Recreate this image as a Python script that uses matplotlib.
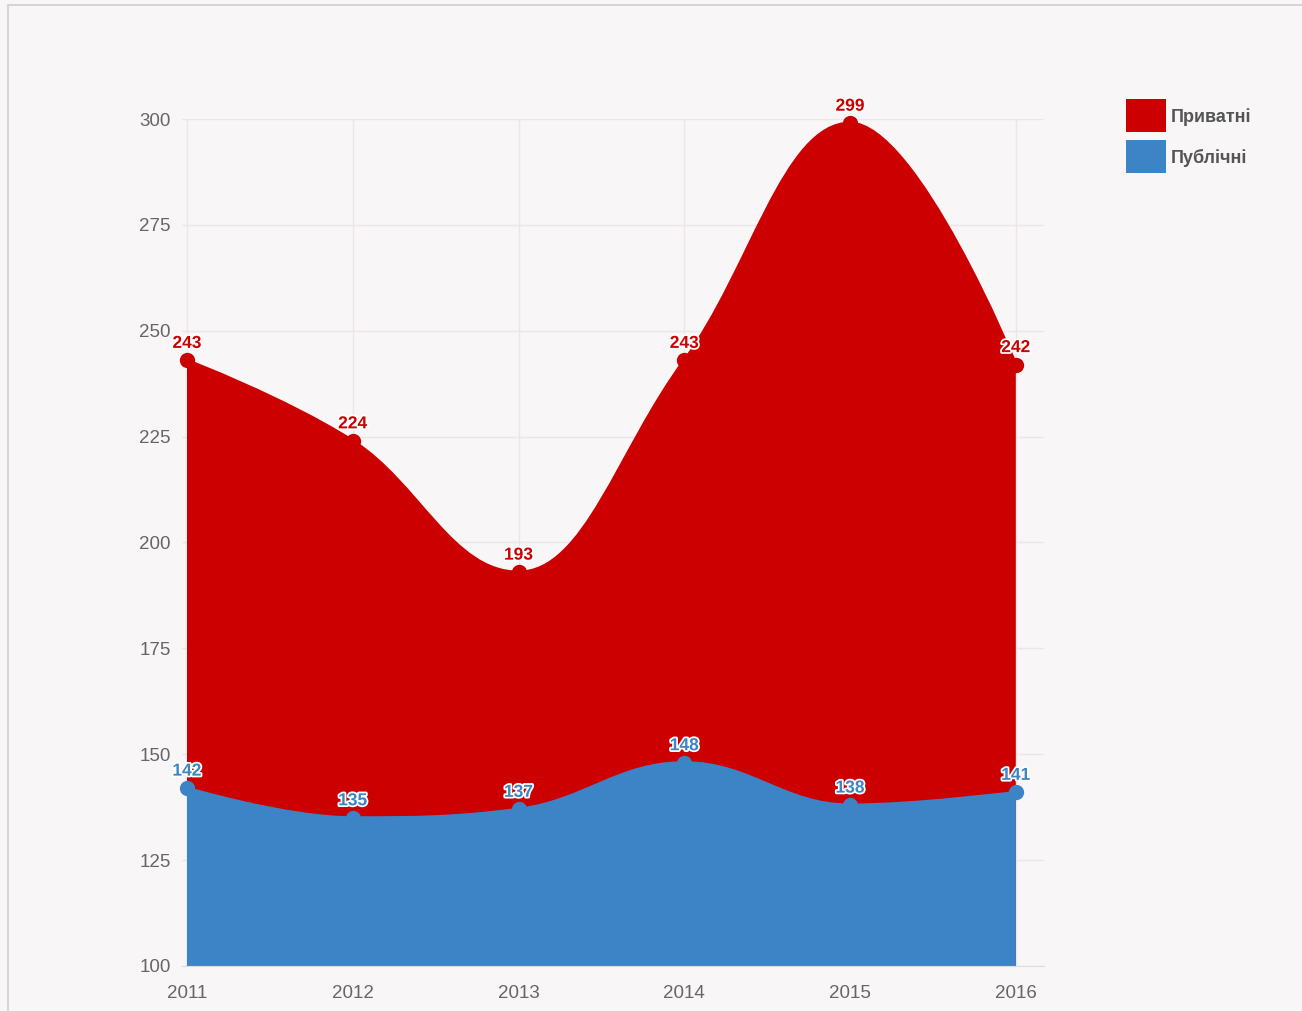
import numpy as np
import matplotlib
matplotlib.use("Agg")
import matplotlib.pyplot as plt
from matplotlib.path import Path
from matplotlib.patches import PathPatch, Rectangle
import matplotlib.patheffects as pe

years = [2011, 2012, 2013, 2014, 2015, 2016]
private = [243, 224, 193, 243, 299, 242]
public = [142, 135, 137, 148, 138, 141]
series_names = ["Приватні", "Публічні"]
y_ticks = [100, 125, 150, 175, 200, 225, 250, 275, 300]

RED = "#cc0000"
BLUE = "#3d84c6"
BG = "#f9f6f7"

plt.rcParams["font.family"] = ["Liberation Sans", "DejaVu Sans"]


def spline_path(xs, ys, base):
    # highcharts-style spline control points, closed down to the baseline
    n = len(xs)
    sm = 1.5
    den = sm + 1
    lc = [None] * n
    rc = [None] * n
    for i in range(n):
        if i == 0 or i == n - 1:
            lc[i] = (xs[i], ys[i])
            rc[i] = (xs[i], ys[i])
            continue
        x, y = xs[i], ys[i]
        lx = (sm * x + xs[i - 1]) / den
        ly = (sm * y + ys[i - 1]) / den
        rx = (sm * x + xs[i + 1]) / den
        ry = (sm * y + ys[i + 1]) / den
        corr = (ry - ly) * (rx - x) / (rx - lx) + y - ry
        ly += corr
        ry += corr
        if ly > max(ys[i - 1], y):
            ly = max(ys[i - 1], y)
            ry = 2 * y - ly
        elif ly < min(ys[i - 1], y):
            ly = min(ys[i - 1], y)
            ry = 2 * y - ly
        if ry > max(y, ys[i + 1]):
            ry = max(y, ys[i + 1])
            ly = 2 * y - ry
        elif ry < min(y, ys[i + 1]):
            ry = min(y, ys[i + 1])
            ly = 2 * y - ry
        lc[i] = (lx, ly)
        rc[i] = (rx, ry)
    verts = [(xs[0], base), (xs[0], ys[0])]
    codes = [Path.MOVETO, Path.LINETO]
    line_verts = [(xs[0], ys[0])]
    line_codes = [Path.MOVETO]
    for i in range(1, n):
        seg = [rc[i - 1], lc[i], (xs[i], ys[i])]
        verts += seg
        codes += [Path.CURVE4] * 3
        line_verts += seg
        line_codes += [Path.CURVE4] * 3
    verts += [(xs[-1], base), (xs[0], base)]
    codes += [Path.LINETO, Path.CLOSEPOLY]
    return Path(verts, codes), Path(line_verts, line_codes)


fig = plt.figure(figsize=(13.02, 10.11), dpi=100)
fig.patch.set_facecolor(BG)
fig.patches.append(Rectangle((8 / 1302, -0.01), 1.02, 1 - 5 / 1011 + 0.01,
                             transform=fig.transFigure, facecolor="none",
                             edgecolor="#cfcfcf", lw=1.2))

ax = fig.add_axes([182 / 1302, 1 - 966 / 1011, 862 / 1302, 847 / 1011])
ax.set_facecolor(BG)
ax.set_xlim(2010.97, 2016.17)
ax.set_ylim(100, 300)

for vals, col in [(private, RED), (public, BLUE)]:
    area, line = spline_path(years, vals, 100)
    ax.add_patch(PathPatch(area, facecolor=col, edgecolor="none", zorder=2))
    ax.add_patch(PathPatch(line, facecolor="none", edgecolor=col, lw=2.2, zorder=3))
    ax.scatter(years, vals, s=100, color=col, zorder=4, clip_on=False)
    for x, v in zip(years, vals):
        ax.annotate(str(v), (x, v), xytext=(0, 9), textcoords="offset points",
                    ha="center", va="baseline", color=col, fontsize=12.5,
                    fontweight="bold", zorder=5, annotation_clip=False,
                    path_effects=[pe.withStroke(linewidth=2.5, foreground="white")])

ax.set_xticks(years)
ax.set_xticklabels([str(y) for y in years])
ax.set_yticks(y_ticks)
ax.grid(True, color="#ebe6e8", lw=1, zorder=0)
ax.set_axisbelow(True)
for s in ["top", "right", "left"]:
    ax.spines[s].set_visible(False)
ax.spines["bottom"].set_color("#dddddd")
ax.tick_params(axis="both", length=0, colors="#666666", labelsize=13.5)
ax.tick_params(axis="x", pad=13.5)
ax.tick_params(axis="y", pad=8)

# legend
for i, (name, col) in enumerate(zip(series_names, [RED, BLUE])):
    top = 99 + i * 41
    fig.patches.append(Rectangle((1126 / 1302, 1 - (top + 33) / 1011), 40 / 1302, 33 / 1011,
                                 transform=fig.transFigure, facecolor=col, edgecolor="none"))
    fig.text(1171 / 1302, 1 - (top + 18) / 1011, name, fontsize=13, fontweight="bold",
             color="#555555", va="center", ha="left")

fig.savefig("out.png", dpi=100, facecolor=BG)
